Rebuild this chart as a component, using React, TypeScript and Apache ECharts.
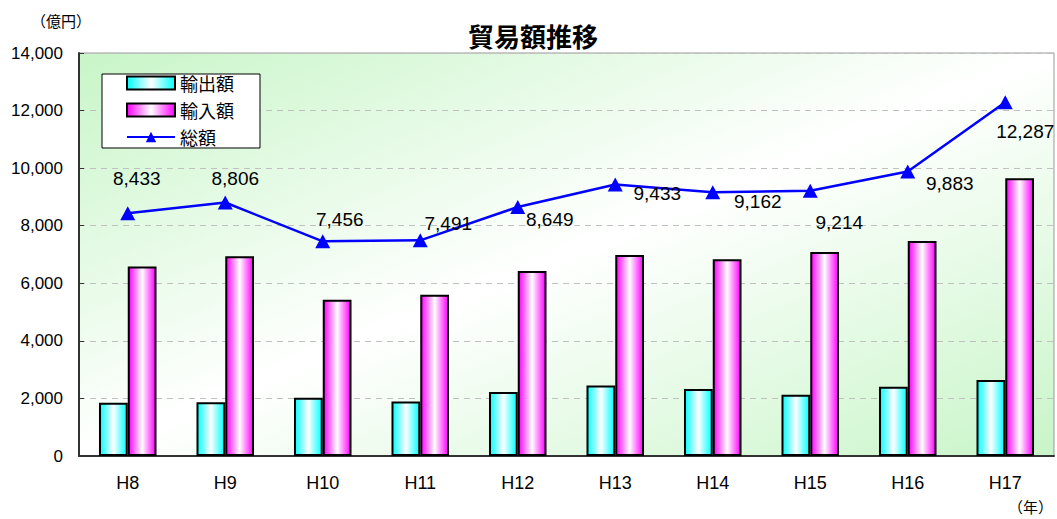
import React, { useEffect, useRef } from "react";
import * as echarts from "echarts";

const categories = ["H8", "H9", "H10", "H11", "H12", "H13", "H14", "H15", "H16", "H17"];
const exportValues = [1850, 1865, 2025, 1890, 2220, 2450, 2330, 2130, 2410, 2640];
const importValues = [6583, 6941, 5431, 5601, 6429, 6983, 6832, 7084, 7473, 9647];
const totalValues = [8433, 8806, 7456, 7491, 8649, 9433, 9162, 9214, 9883, 12287];
const labelOffsets: [number, number][] = [
  [9, -35], [10, -24], [17, -22], [28, -17], [32, 12],
  [42, 9], [45, 9], [29, 32], [42, 12], [20, 29],
];
const seriesNames = ["輸出額", "輸入額", "総額"];

const FONT = '"Liberation Sans", Arial, "Noto Sans CJK JP", sans-serif';
const CJK = '"Noto Sans CJK JP", "Liberation Sans", sans-serif';

function hGrad(c: string) {
  return new echarts.graphic.LinearGradient(0, 0, 1, 0, [
    { offset: 0, color: c },
    { offset: 0.5, color: "#ffffff" },
    { offset: 1, color: c },
  ]);
}

export default function App() {
  const ref = useRef<HTMLDivElement>(null);
  useEffect(() => {
    if (!ref.current) return;
    const chart = echarts.init(ref.current, undefined, { renderer: "svg" });
    chart.setOption({
      animation: false,
      backgroundColor: "#ffffff",
      title: {
        text: "貿易額推移",
        left: 528,
        textAlign: "center",
        top: 17,
        textStyle: { fontFamily: CJK, fontSize: 26, fontWeight: "bold", color: "#000" },
      },
      graphic: [
        {
          type: "text",
          left: 31,
          top: 13,
          style: { text: "（億円）", fontFamily: CJK, fontSize: 15, fill: "#000" },
        },
        {
          type: "text",
          right: 4,
          top: 499,
          style: { text: "（年）", fontFamily: CJK, fontSize: 15, fill: "#000" },
        },
      ],
      legend: {
        orient: "vertical",
        left: 102,
        top: 74,
        padding: [0, 26, 2, 24],
        borderColor: "#000",
        borderWidth: 1,
        backgroundColor: "#ffffff",
        itemWidth: 48,
        itemHeight: 13,
        itemGap: 9,
        textStyle: { fontFamily: CJK, fontSize: 18, color: "#000" },
        data: [
          { name: seriesNames[0], icon: "rect" },
          { name: seriesNames[1], icon: "rect" },
          { name: seriesNames[2] },
        ],
      },
      grid: {
        left: 79,
        top: 53,
        right: 3,
        bottom: 63,
        show: true,
        borderColor: "#999",
        borderWidth: 1,
        backgroundColor: new echarts.graphic.LinearGradient(0, 0, 1, 1, [
          { offset: 0, color: "#c8f5c8" },
          { offset: 0.5, color: "#ffffff" },
          { offset: 1, color: "#c8f5c8" },
        ]),
      },
      xAxis: {
        type: "category",
        data: categories,
        axisLine: { lineStyle: { color: "#333", width: 2 } },
        axisTick: { inside: true, length: 5, lineStyle: { color: "#333" } },
        axisLabel: { fontFamily: FONT, fontSize: 18, color: "#000", margin: 18 },
      },
      yAxis: {
        type: "value",
        min: 0,
        max: 14000,
        interval: 2000,
        axisLine: { show: true, lineStyle: { color: "#333", width: 2 } },
        axisTick: { show: true, inside: true, length: 5, lineStyle: { color: "#333" } },
        axisLabel: {
          fontFamily: FONT,
          fontSize: 17,
          color: "#000",
          margin: 16,
          formatter: (v: number) => v.toLocaleString("en-US"),
        },
        splitLine: { lineStyle: { color: "#c0c0c0", type: [6, 5], width: 1 } },
      },
      series: [
        {
          name: seriesNames[0],
          type: "bar",
          data: exportValues,
          barGap: "0%",
          barCategoryGap: "41%",
          itemStyle: { color: hGrad("#00ffff"), borderColor: "#000", borderWidth: 2 },
        },
        {
          name: seriesNames[1],
          type: "bar",
          data: importValues,
          barGap: "0%",
          barCategoryGap: "41%",
          itemStyle: { color: hGrad("#ff00ff"), borderColor: "#000", borderWidth: 2 },
        },
        {
          name: seriesNames[2],
          type: "line",
          data: totalValues.map((v, i) => ({
            value: v,
            label: { offset: labelOffsets[i] },
          })),
          symbol: "triangle",
          symbolSize: [15, 14],
          lineStyle: { color: "#0000ff", width: 2.5 },
          itemStyle: { color: "#0000ff" },
          label: {
            show: true,
            position: "inside",
            fontFamily: FONT,
            fontSize: 19,
            color: "#000",
            formatter: (p: any) => Number(p.value).toLocaleString("en-US"),
          },
          z: 5,
        },
      ],
    });
    return () => chart.dispose();
  }, []);
  return (
    <div
      ref={ref}
      style={{ position: "fixed", left: 0, top: 0, width: 1057, height: 519 }}
    />
  );
}
